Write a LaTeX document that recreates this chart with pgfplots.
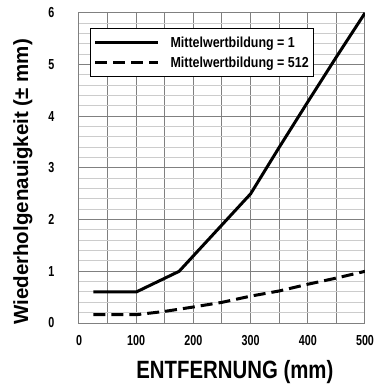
\documentclass[border=0pt]{standalone}
\usepackage{pgfplots}
\pgfplotsset{compat=1.18}
\usepackage{fontspec}
\setmainfont{Liberation Sans}
\newcommand{\tl}[1]{\scalebox{0.74}[1]{#1}}
\begin{document}
\begin{tikzpicture}
\begin{axis}[
  at={(0,0)}, anchor=south west,
  scale only axis, width=286pt, height=310pt,
  xmin=0, xmax=500, ymin=0, ymax=6,
  xtick={0,100,200,300,400,500},
  xticklabels={\tl{0},\tl{100},\tl{200},\tl{300},\tl{400},\tl{500}},
  minor x tick num=1,
  ytick={0,1,2,3,4,5,6},
  yticklabels={\tl{0}\hspace{-12pt},\tl{1},\tl{2},\tl{3},\tl{4},\tl{5},\tl{6}},
  minor y tick num=4,
  major tick length=0pt, minor tick length=0pt,
  grid=both,
  major grid style={draw=black!50, line width=1pt},
  minor x grid style={draw=black!50, line width=1pt},
  minor y grid style={draw=black!20, line width=1pt},
  axis line style={draw=black!50, line width=1pt},
  xticklabel style={font=\fontsize{14.5}{14.5}\selectfont\bfseries, yshift=-9pt},
  yticklabel style={font=\fontsize{14.5}{14.5}\selectfont\bfseries, xshift=-21pt},
  xlabel={\scalebox{0.815}[1]{ENTFERNUNG (mm)}},
  xlabel style={font=\fontsize{25}{25}\selectfont\bfseries, at={(axis description cs:0.545,-0.158)}, anchor=center},
  ylabel={Wiederholgenauigkeit (± mm)},
  ylabel style={font=\fontsize{20.5}{20.5}\selectfont\bfseries, at={(axis description cs:-0.196,0.455)}, anchor=center},
  legend style={at={(axis description cs:0.038,0.952)}, anchor=north west,
    draw=black, line width=1.3pt, fill=white,
    font=\fontsize{14.5}{14.5}\selectfont\bfseries,
    inner xsep=3pt, inner ysep=6pt, row sep=4pt},
  legend cell align=left,
  legend image code/.code={\draw[#1] (0pt,0pt) -- (63pt,0pt);},
]
\addplot[black, line width=3pt] coordinates {
(25,0.6) (100,0.6) (175,1.0) (300,2.5) (350,3.4) (400,4.28) (450,5.15) (500,6.0)};
\addlegendentry{\hspace{9pt}\scalebox{0.86}[1]{Mittelwertbildung = 1}}
\addplot[black, line width=3pt, dash pattern=on 12pt off 6pt] coordinates {
(25,0.16) (100,0.16) (150,0.225) (200,0.31) (250,0.40) (300,0.52) (350,0.62) (400,0.75) (450,0.87) (500,1.0)};
\addlegendentry{\hspace{9pt}\scalebox{0.86}[1]{Mittelwertbildung = 512}}
\end{axis}
\pgfresetboundingbox
\path[use as bounding box] (-79pt,-62pt) rectangle (294pt,323pt);
\end{tikzpicture}
\end{document}
